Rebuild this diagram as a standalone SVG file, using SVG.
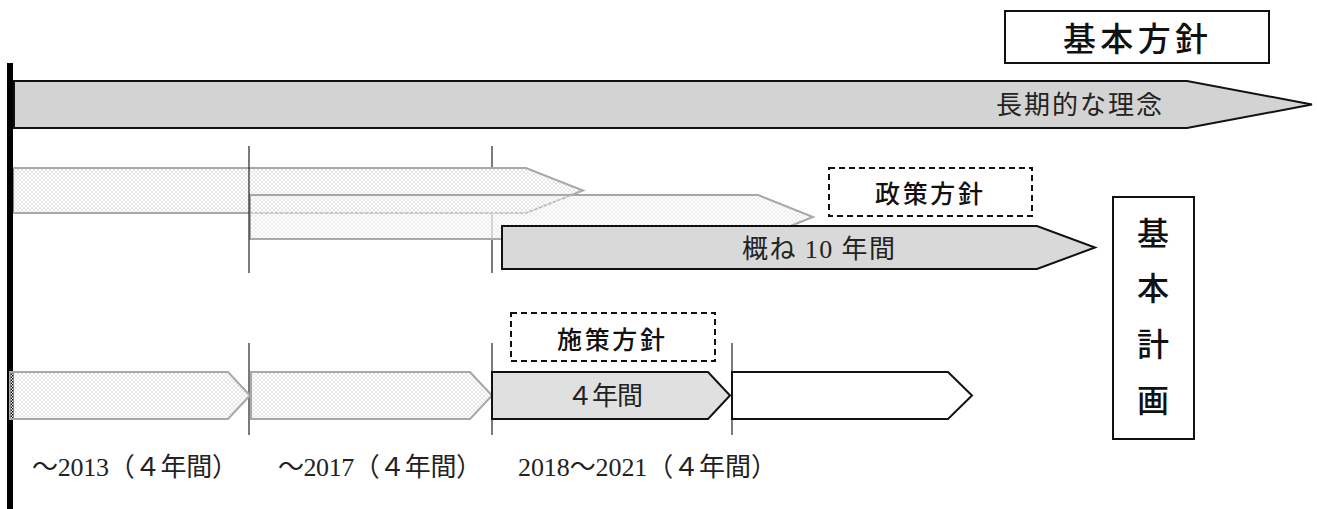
<svg xmlns="http://www.w3.org/2000/svg" width="1317" height="509" viewBox="0 0 1317 509">
<defs>
<pattern id="hatch" width="4" height="4" patternUnits="userSpaceOnUse">
<rect width="4" height="4" fill="#ffffff"/>
<path d="M0,0 L4,4 M4,0 L0,4" stroke="#dcdcdc" stroke-width="0.7"/>
</pattern>
<pattern id="checker" width="3" height="3" patternUnits="userSpaceOnUse">
<rect width="3" height="3" fill="#ffffff"/>
<rect width="1.5" height="1.5" fill="#000"/>
<rect x="1.5" y="1.5" width="1.5" height="1.5" fill="#000"/>
</pattern>
<style>
.serif{font-family:"Liberation Serif","Noto Sans CJK JP",serif;font-size:26px;fill:#222}
.goth{font-family:"Noto Sans CJK JP",sans-serif;fill:#111}
.hatchbar{fill:url(#hatch);stroke:#a8a8a8;stroke-width:2}
.solidbar{stroke:#111;stroke-width:2}
.dash{fill:#fff;stroke:#111;stroke-width:2;stroke-dasharray:6 4}
.div{stroke:#222;stroke-width:1.2}
</style>
</defs>
<rect width="1317" height="509" fill="#ffffff"/>

<g id="dividers-under">
<line class="div" x1="492" y1="146" x2="492" y2="273"/>
</g>

<g id="bar-past-1">
<path class="hatchbar" d="M10,168 L526,168 L583,190.5 L526,213 L10,213 Z"/>
<rect x="10" y="169" width="4" height="43" fill="url(#checker)"/>
</g>
<g id="bar-past-2">
<path class="hatchbar" d="M250,195 L758,195 L813,217 L758,239 L250,239 Z" fill-opacity="0.75"/>
<path d="M250,213 L526,213 L583,190.5" fill="none" stroke="#b0b0b0" stroke-width="1.2" stroke-dasharray="3 2"/>
</g>

<g id="dividers">
<line class="div" x1="249" y1="146" x2="249" y2="273"/>
<line class="div" x1="249" y1="343" x2="249" y2="435"/>
<line class="div" x1="492" y1="343" x2="492" y2="435"/>
<line class="div" x1="732" y1="343" x2="732" y2="435"/>
</g>

<g id="timeline-axis">
<rect x="7" y="63" width="6" height="446" fill="#000"/>
</g>

<g id="long-term">
<path class="solidbar" fill="#d3d3d3" d="M14,81 L1187,81 L1312,104.5 L1187,128 L14,128 Z"/>
<text class="serif" x="996" y="114" textLength="166" lengthAdjust="spacing">長期的な理念</text>
</g>

<g id="ten-years">
<path class="solidbar" fill="#d9d9d9" d="M502,226 L1037,226 L1095,247.5 L1037,269 L502,269 Z"/>
<text class="serif" x="742" y="258" textLength="153" lengthAdjust="spacing">概ね 10 年間</text>
</g>

<g id="period-2013">
<path class="hatchbar" d="M10,372 L228,372 L250,395.5 L228,419 L10,419 Z"/>
<rect x="10" y="373" width="4" height="45" fill="url(#checker)"/>
<text class="serif" x="32" y="476" textLength="206" lengthAdjust="spacing">～2013（４年間）</text>
</g>
<g id="period-2017">
<path class="hatchbar" d="M251,372 L470,372 L492,395.5 L470,419 L251,419 Z"/>
<text class="serif" x="278" y="476" textLength="204" lengthAdjust="spacing">～2017（４年間）</text>
</g>
<g id="period-2021">
<path class="solidbar" fill="#e0e0e0" d="M492,372 L708,372 L730,395.5 L708,419 L492,419 Z"/>
<text class="serif" x="567" y="405" textLength="76" lengthAdjust="spacing">４年間</text>
<text class="serif" x="518" y="476" textLength="259" lengthAdjust="spacing">2018～2021（４年間）</text>
</g>
<g id="period-next">
<path class="solidbar" fill="#ffffff" d="M732,372 L948,372 L972,395.5 L948,419 L732,419 Z"/>
</g>

<g id="policy-label">
<rect class="dash" x="829" y="168" width="203" height="48"/>
<text class="goth" x="875" y="203" font-size="25" font-weight="500" textLength="108" lengthAdjust="spacing">政策方針</text>
</g>
<g id="measure-label">
<rect class="dash" x="511" y="313" width="204" height="48"/>
<text class="goth" x="557" y="349" font-size="25" font-weight="500" textLength="108" lengthAdjust="spacing">施策方針</text>
</g>

<g id="basic-policy">
<rect x="1005" y="11" width="264" height="52" fill="#fff" stroke="#111" stroke-width="2"/>
<text class="goth" x="1063" y="51" font-size="33" font-weight="500" textLength="145" lengthAdjust="spacing">基本方針</text>
</g>

<g id="basic-plan">
<rect x="1113" y="197" width="81" height="242" fill="#fff" stroke="#111" stroke-width="2"/>
<g class="goth" font-size="32" font-weight="500" text-anchor="middle">
<text x="1153" y="245">基</text>
<text x="1153" y="300">本</text>
<text x="1153" y="356">計</text>
<text x="1153" y="412">画</text>
</g>
</g>
</svg>
